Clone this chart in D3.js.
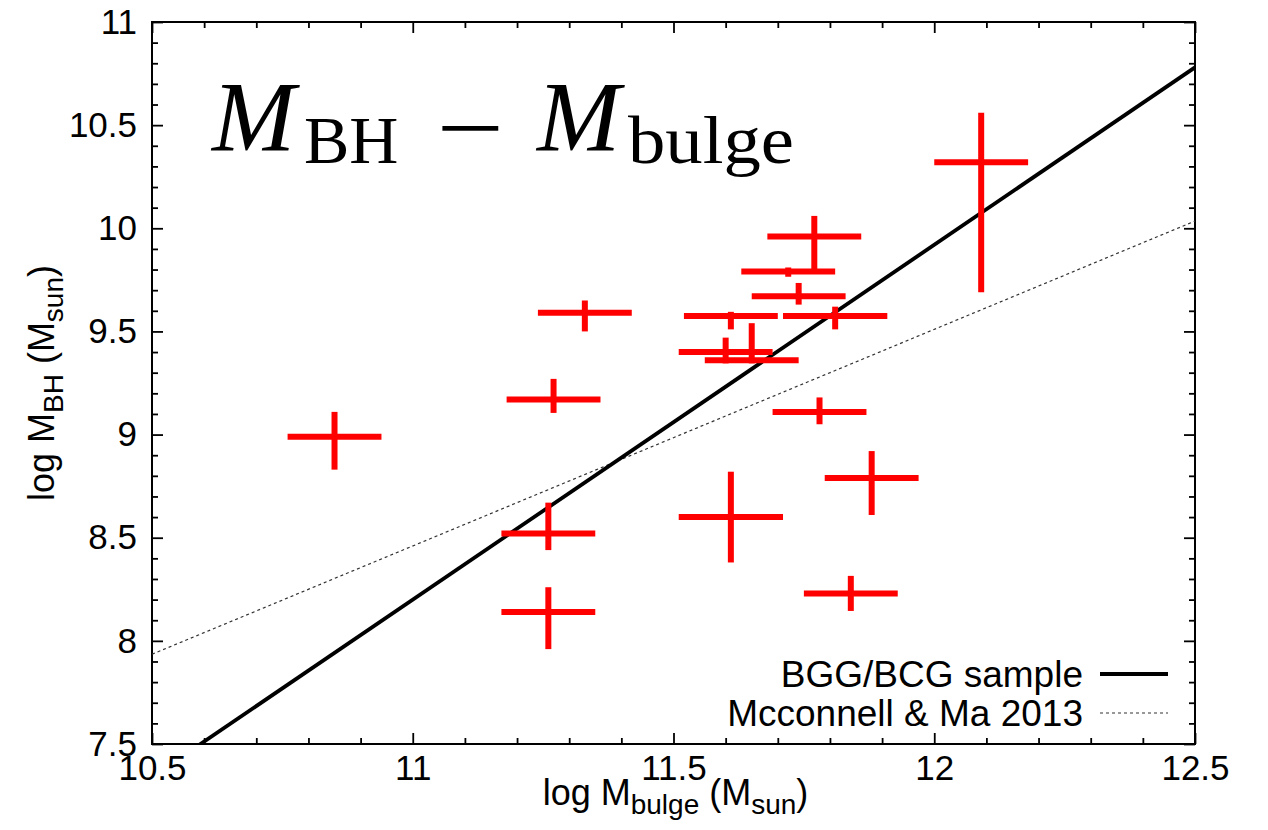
<!DOCTYPE html>
<html>
<head>
<meta charset="utf-8">
<script src="https://cdn.jsdelivr.net/npm/d3@7"></script>
<style>
  body { margin: 0; background: #fff; }
  text { font-family: "Liberation Sans", Arial, Helvetica, sans-serif; fill: #000; }
  .title { font-family: "Liberation Serif", "Times New Roman", serif; }
</style>
</head>
<body>
<div id="chart"></div>
<script>
// BGG/BCG sample, log M_bulge (x) and log M_BH (y) with error bar ends
var logMbulge    = [10.85, 11.27, 11.33, 11.26, 11.26, 11.61, 11.84, 11.88, 11.78, 12.09, 11.77, 11.72, 11.74, 11.61, 11.81, 11.60, 11.65];
var logMbulgeErr = [0.09, 0.09, 0.09, 0.09, 0.09, 0.10, 0.09, 0.09, 0.09, 0.09, 0.09, 0.09, 0.09, 0.09, 0.10, 0.09, 0.09];
var logMbh       = [8.99, 9.17, 9.59, 8.52, 8.14, 8.60, 8.23, 8.79, 9.11, 10.32, 9.96, 9.79, 9.67, 9.575, 9.575, 9.40, 9.36];
var logMbhLow    = [8.83, 9.105, 9.50, 8.44, 7.96, 8.38, 8.145, 8.61, 9.05, 9.69, 9.80, 9.765, 9.63, 9.51, 9.51, 9.345, 9.345];
var logMbhHigh   = [9.11, 9.27, 9.65, 8.67, 8.26, 8.82, 8.315, 8.92, 9.18, 10.56, 10.06, 9.81, 9.735, 9.595, 9.62, 9.47, 9.54];

// fitted relations: y = zero + slope * (x - pivot)
var fitLine = {zero: 9.06, slope: 1.72, pivot: 11.5};       // BGG/BCG sample
var mmLine  = {zero: 8.46, slope: 1.05, pivot: 11.0};       // Mcconnell & Ma 2013

var xTicks = [10.5, 11, 11.5, 12, 12.5];
var yTicks = [7.5, 8, 8.5, 9, 9.5, 10, 10.5, 11];
var legendLabels = ["BGG/BCG sample", "Mcconnell & Ma 2013"];

var width = 1268, height = 830;
var margin = {top: 22, right: 73, bottom: 86, left: 152};
var innerWidth = width - margin.left - margin.right;
var innerHeight = height - margin.top - margin.bottom;

var svg = d3.select("#chart").append("svg")
    .attr("width", width)
    .attr("height", height);

var g = svg.append("g")
    .attr("transform", "translate(" + margin.left + "," + margin.top + ")");

var xScale = d3.scaleLinear().domain([10.5, 12.5]).range([0, innerWidth]);
var yScale = d3.scaleLinear().domain([7.5, 11]).range([innerHeight, 0]);

var xMinor = d3.range(10.6, 12.5, 0.1).filter(function(d) { return Math.abs(d * 2 - Math.round(d * 2)) > 0.01; });
var yMinor = d3.range(7.6, 11, 0.1).filter(function(d) { return Math.abs(d * 2 - Math.round(d * 2)) > 0.01; });
var fmt = function(d) { return String(d); };

// clip for the lines
g.append("clipPath").attr("id", "plotclip")
  .append("rect").attr("width", innerWidth).attr("height", innerHeight);

// axes: major and minor, ticks pointing inward on all four sides
function styleAxis(sel) {
  sel.select(".domain").remove();
  sel.selectAll("line").attr("stroke", "#000").attr("stroke-width", 1.8);
  sel.selectAll("text").style("font-size", "35px")
    .style("font-family", '"Liberation Sans", Arial, sans-serif').attr("fill", "#000");
}

g.append("g").attr("transform", "translate(0," + innerHeight + ")")
  .call(d3.axisBottom(xScale).tickValues(xTicks).tickSize(-11).tickPadding(11).tickFormat(fmt))
  .call(styleAxis);
g.append("g").attr("transform", "translate(0," + innerHeight + ")")
  .call(d3.axisBottom(xScale).tickValues(xMinor).tickSize(-6).tickFormat(""))
  .call(styleAxis);
g.append("g")
  .call(d3.axisTop(xScale).tickValues(xTicks).tickSize(-11).tickFormat(""))
  .call(styleAxis);
g.append("g")
  .call(d3.axisTop(xScale).tickValues(xMinor).tickSize(-6).tickFormat(""))
  .call(styleAxis);

g.append("g")
  .call(d3.axisLeft(yScale).tickValues(yTicks).tickSize(-11).tickPadding(15).tickFormat(fmt))
  .call(styleAxis);
g.append("g")
  .call(d3.axisLeft(yScale).tickValues(yMinor).tickSize(-6).tickFormat(""))
  .call(styleAxis);
g.append("g").attr("transform", "translate(" + innerWidth + ",0)")
  .call(d3.axisRight(yScale).tickValues(yTicks).tickSize(-11).tickFormat(""))
  .call(styleAxis);
g.append("g").attr("transform", "translate(" + innerWidth + ",0)")
  .call(d3.axisRight(yScale).tickValues(yMinor).tickSize(-6).tickFormat(""))
  .call(styleAxis);

// frame
g.append("rect")
  .attr("width", innerWidth).attr("height", innerHeight)
  .attr("fill", "none").attr("stroke", "#000").attr("stroke-width", 2);

// relation lines
function relation(p) {
  return function(x) { return p.zero + p.slope * (x - p.pivot); };
}
var line = d3.line()
  .x(function(d) { return xScale(d[0]); })
  .y(function(d) { return yScale(d[1]); });

var mmF = relation(mmLine);
g.append("path")
  .attr("clip-path", "url(#plotclip)")
  .attr("d", line(xScale.domain().map(function(x) { return [x, mmF(x)]; })))
  .attr("fill", "none").attr("stroke", "#333").attr("stroke-width", 1.2)
  .attr("stroke-dasharray", "3,3");

var fitF = relation(fitLine);
g.append("path")
  .attr("clip-path", "url(#plotclip)")
  .attr("d", line(xScale.domain().map(function(x) { return [x, fitF(x)]; })))
  .attr("fill", "none").attr("stroke", "#000").attr("stroke-width", 3.8);

// error bars
var points = logMbulge.map(function(x, i) {
  return {x: x, xe: logMbulgeErr[i], y: logMbh[i], lo: logMbhLow[i], hi: logMbhHigh[i]};
});
var bars = g.selectAll(".pt").data(points).enter().append("g").attr("class", "pt");
bars.append("line")
  .attr("x1", function(d) { return xScale(d.x - d.xe); })
  .attr("x2", function(d) { return xScale(d.x + d.xe); })
  .attr("y1", function(d) { return yScale(d.y); })
  .attr("y2", function(d) { return yScale(d.y); });
bars.append("line")
  .attr("x1", function(d) { return xScale(d.x); })
  .attr("x2", function(d) { return xScale(d.x); })
  .attr("y1", function(d) { return yScale(d.lo); })
  .attr("y2", function(d) { return yScale(d.hi); });
bars.selectAll("line").attr("stroke", "#ff0000").attr("stroke-width", 6);

// legend
var legend = g.append("g").attr("transform", "translate(" + (1083 - margin.left) + "," + (674 - margin.top) + ")");
legend.selectAll("text").data(legendLabels).enter().append("text")
  .attr("x", 0).attr("y", function(d, i) { return i * 39; })
  .attr("dy", "0.35em")
  .attr("text-anchor", "end")
  .style("font-size", "37px")
  .text(function(d) { return d; });
legend.append("line").attr("x1", 17).attr("x2", 85).attr("y1", 0).attr("y2", 0)
  .attr("stroke", "#000").attr("stroke-width", 3.8);
legend.append("line").attr("x1", 17).attr("x2", 85).attr("y1", 39).attr("y2", 39)
  .attr("stroke", "#333").attr("stroke-width", 1.2).attr("stroke-dasharray", "3,3");

// axis titles
function massLabel(sel, sub) {
  sel.append("tspan").text("log M");
  sel.append("tspan").attr("dy", 9).style("font-size", "28px").text(sub);
  sel.append("tspan").attr("dy", -9).text(" (M");
  sel.append("tspan").attr("dy", 9).style("font-size", "28px").text("sun");
  sel.append("tspan").attr("dy", -9).text(")");
}
svg.append("text")
  .attr("x", margin.left + innerWidth / 2 + 2).attr("y", 805)
  .attr("text-anchor", "middle").style("font-size", "36px")
  .call(massLabel, "bulge");

svg.append("text")
  .attr("transform", "translate(54," + (margin.top + innerHeight / 2) + ") rotate(-90)")
  .attr("text-anchor", "middle").style("font-size", "36px")
  .call(massLabel, "BH");

// big title  M_BH - M_bulge
var title = svg.append("g");
title.append("text").attr("class", "title").attr("x", 212).attr("y", 150)
  .style("font-size", "100px").style("font-style", "italic").text("M");
title.append("text").attr("class", "title").attr("x", 304).attr("y", 163)
  .style("font-size", "68px").text("BH");
title.append("text").attr("class", "title")
  .attr("transform", "translate(470,160) scale(1.25,1)")
  .attr("text-anchor", "middle")
  .style("font-size", "96px").text("\u2212");
title.append("text").attr("class", "title").attr("x", 537).attr("y", 150)
  .style("font-size", "100px").style("font-style", "italic").text("M");
title.append("text").attr("class", "title").attr("x", 628).attr("y", 163)
  .attr("textLength", 166).attr("lengthAdjust", "spacingAndGlyphs")
  .style("font-size", "68px").text("bulge");
</script>
</body>
</html>
